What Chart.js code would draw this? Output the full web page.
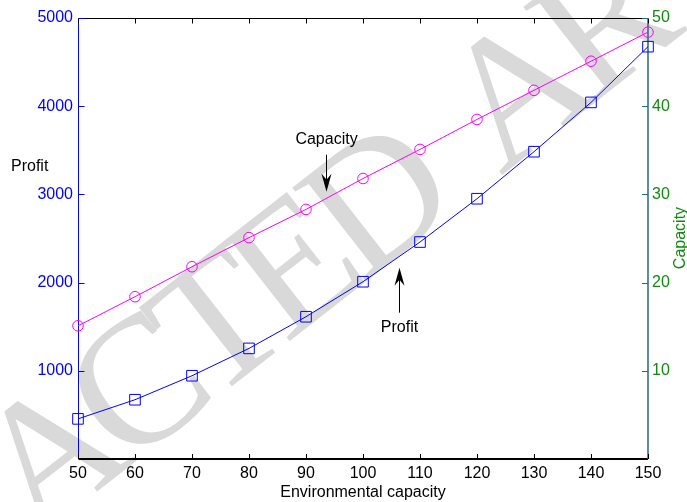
<!DOCTYPE html>
<html>
<head>
<meta charset="utf-8">
<script src="https://cdn.jsdelivr.net/npm/chart.js@4.4.0/dist/chart.umd.min.js"></script>
<style>
  html, body { margin: 0; padding: 0; background: #fff; }
  canvas { display: block; }
</style>
</head>
<body>
<canvas id="chart" width="687" height="502"></canvas>
<script>
// environmental capacity levels (x axis)
const capacityLevels = [50, 60, 70, 80, 90, 100, 110, 120, 130, 140, 150];
// profit, left axis
const profitValues = [455, 672, 944, 1254, 1613, 2010, 2460, 2951, 3484, 4043, 4675];
// capacity, right axis
const capacityValues = [15.1, 18.4, 21.8, 25.1, 28.3, 31.8, 35.1, 38.5, 41.8, 45.1, 48.4];
const profitTicks = [1000, 2000, 3000, 4000, 5000];
const capacityTicks = [10, 20, 30, 40, 50];

const FONT = '"Liberation Sans", Arial, sans-serif';
const BLUE = '#0000ff';
const MAGENTA = '#ff00ff';
const GREEN = '#108a10';
const TEAL = '#236a7a';

// arrow notes in data units (x, label y, arrow tail y, arrow tip y), on the profit axis
const notes = [
  { text: 'Capacity', x: 93.5, labelY: 3620, fromY: 3450, toY: 3030 },
  { text: 'Profit', x: 106.3, labelY: 1490, fromY: 1659, toY: 2168 }
];

// grey stamp behind the plot, letters set a bit tight
const watermark = {
  id: 'watermark',
  beforeDraw(chart) {
    const ctx = chart.ctx;
    ctx.save();
    ctx.translate(-285, 790);
    ctx.rotate(-38 * Math.PI / 180);
    ctx.font = '182px "Liberation Serif", "DejaVu Serif", serif';
    ctx.fillStyle = '#d9d9d9';
    ctx.textBaseline = 'alphabetic';
    let x = 0;
    for (const ch of 'RETRACTED ARTICLE') {
      ctx.fillText(ch, x, 0);
      x += ctx.measureText(ch).width - 15;
      if (ch === ' ') x += 30;
    }
    ctx.restore();
  }
};

function seg(ctx, color, width, x1, y1, x2, y2) {
  ctx.strokeStyle = color;
  ctx.lineWidth = width;
  ctx.beginPath();
  ctx.moveTo(x1, y1);
  ctx.lineTo(x2, y2);
  ctx.stroke();
}

const frame = {
  id: 'frame',
  beforeDatasetsDraw(chart) {
    const { ctx, chartArea: a, scales } = chart;
    const L = Math.round(a.left) + 0.5, R = Math.round(a.right), T = Math.round(a.top) + 0.5, B = Math.round(a.bottom);
    ctx.save();
    seg(ctx, '#000', 1, L, T, R, T);
    seg(ctx, '#000', 2, L, B, R, B);
    seg(ctx, BLUE, 1, L, T, L, B);
    seg(ctx, TEAL, 1.5, R, T, R, B);
    capacityLevels.forEach(v => {
      const x = Math.round(scales.x.getPixelForValue(v)) + 0.5;
      seg(ctx, '#000', 1, x, B, x, B - 5);
      seg(ctx, '#000', 1, x, T, x, T + 5);
    });
    profitTicks.forEach(v => {
      const y = Math.round(scales.y.getPixelForValue(v)) + 0.5;
      seg(ctx, BLUE, 1, L, y, L + 6, y);
    });
    capacityTicks.forEach(v => {
      const y = Math.round(scales.y2.getPixelForValue(v)) + 0.5;
      seg(ctx, TEAL, 1, R, y, R - 6, y);
    });
    ctx.restore();
  },
  afterDatasetsDraw(chart) {
    const { ctx, scales } = chart;
    ctx.save();
    ctx.font = '16px ' + FONT;
    ctx.fillStyle = '#000';
    ctx.textAlign = 'center';
    ctx.textBaseline = 'middle';
    notes.forEach(n => {
      const x = Math.round(scales.x.getPixelForValue(n.x)) + 0.5;
      const y0 = scales.y.getPixelForValue(n.fromY);
      const y1 = scales.y.getPixelForValue(n.toY);
      ctx.fillText(n.text, x, scales.y.getPixelForValue(n.labelY));
      const dir = Math.sign(y1 - y0);
      seg(ctx, '#000', 1, x, y0, x, y1 - dir * 6);
      ctx.beginPath();
      ctx.moveTo(x, y1);
      ctx.lineTo(x - 5, y1 - dir * 18);
      ctx.lineTo(x, y1 - dir * 12);
      ctx.lineTo(x + 5, y1 - dir * 18);
      ctx.closePath();
      ctx.fill();
    });
    // axis titles
    ctx.textAlign = 'left';
    ctx.fillText('Profit', 11, 167);
    ctx.fillStyle = GREEN;
    ctx.translate(681, 238);
    ctx.rotate(-Math.PI / 2);
    ctx.textAlign = 'center';
    ctx.fillText('Capacity', 0, 0);
    ctx.restore();
  }
};

const tickFont = { family: FONT, size: 16 };
const plain = v => String(v);

new Chart(document.getElementById('chart'), {
  type: 'line',
  data: {
    datasets: [
      {
        label: 'Profit',
        data: capacityLevels.map((x, i) => ({ x: x, y: profitValues[i] })),
        yAxisID: 'y',
        borderColor: BLUE,
        borderWidth: 1,
        pointStyle: 'rect',
        pointRadius: 7.5,
        pointBorderColor: BLUE,
        pointBorderWidth: 1,
        pointBackgroundColor: 'rgba(0,0,0,0)',
        tension: 0,
        clip: false
      },
      {
        label: 'Capacity',
        data: capacityLevels.map((x, i) => ({ x: x, y: capacityValues[i] })),
        yAxisID: 'y2',
        borderColor: MAGENTA,
        borderWidth: 1,
        pointStyle: 'circle',
        pointRadius: 5.3,
        pointBorderColor: MAGENTA,
        pointBorderWidth: 1,
        pointBackgroundColor: 'rgba(0,0,0,0)',
        tension: 0,
        clip: false
      }
    ]
  },
  options: {
    responsive: false,
    animation: false,
    layout: { padding: { top: 18, left: 0, right: 0, bottom: 0 } },
    plugins: { legend: { display: false }, tooltip: { enabled: false } },
    scales: {
      x: {
        type: 'linear',
        min: 50,
        max: 150,
        afterBuildTicks(s) { s.ticks = capacityLevels.map(v => ({ value: v })); },
        afterFit(s) { s.height = 43; },
        grid: { display: false, drawTicks: false },
        border: { display: false },
        ticks: { color: '#000', font: tickFont, padding: 5, maxRotation: 0, autoSkip: false, callback: plain },
        title: { display: true, text: 'Environmental capacity', color: '#000', font: tickFont, padding: 0 }
      },
      y: {
        position: 'left',
        min: 0,
        max: 5000,
        afterBuildTicks(s) { s.ticks = profitTicks.map(v => ({ value: v })); },
        afterFit(s) { s.width = 78; },
        grid: { display: false, drawTicks: false },
        border: { display: false },
        ticks: { color: BLUE, font: tickFont, padding: 5, callback: plain }
      },
      y2: {
        position: 'right',
        min: 0,
        max: 50,
        afterBuildTicks(s) { s.ticks = capacityTicks.map(v => ({ value: v })); },
        afterFit(s) { s.width = 39; },
        grid: { display: false, drawTicks: false },
        border: { display: false },
        ticks: { color: GREEN, font: tickFont, padding: 4, callback: plain }
      }
    }
  },
  plugins: [watermark, frame]
});
</script>
</body>
</html>
